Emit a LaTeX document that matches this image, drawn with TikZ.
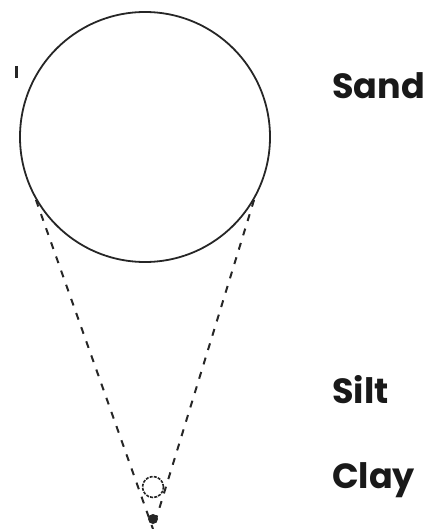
\documentclass[tikz,border=0pt]{standalone}
\usepackage{fontspec}
\setmainfont{Poppins}
\begin{document}
\begin{tikzpicture}[x=1pt,y=-1pt,
  outline/.style={draw=black!85,line width=1.8pt},
  guide/.style={draw=black!85,line width=2pt,dash pattern=on 7pt off 8pt},
  lbl/.style={anchor=base west,inner sep=0pt,font=\fontsize{35}{35}\selectfont\bfseries,text=black!90}]
\useasboundingbox (0,0) rectangle (441,529);
\node[outline,circle,minimum size=250pt,inner sep=0pt] (sand) at (145,137) {};
\node[outline,circle,minimum size=21pt,inner sep=0pt,line width=1.6pt,dash pattern=on 3pt off 1.2pt] (silt) at (153,487) {};
\node[circle,fill=black!85,minimum size=10pt,inner sep=0pt] (clay) at (153,519) {};
\coordinate (tip) at (153,529);
\draw[guide] (sand.210) -- (tip);
\draw[guide] (sand.-30) -- (tip);
\draw[line width=3pt,black!85] (16,66) -- (16,78);
\node[lbl] (t1) at (332,99) {Sand};
\node[lbl] (t2) at (332,403) {Silt};
\node[lbl] (t3) at (332,488) {Clay};
\end{tikzpicture}
\end{document}
